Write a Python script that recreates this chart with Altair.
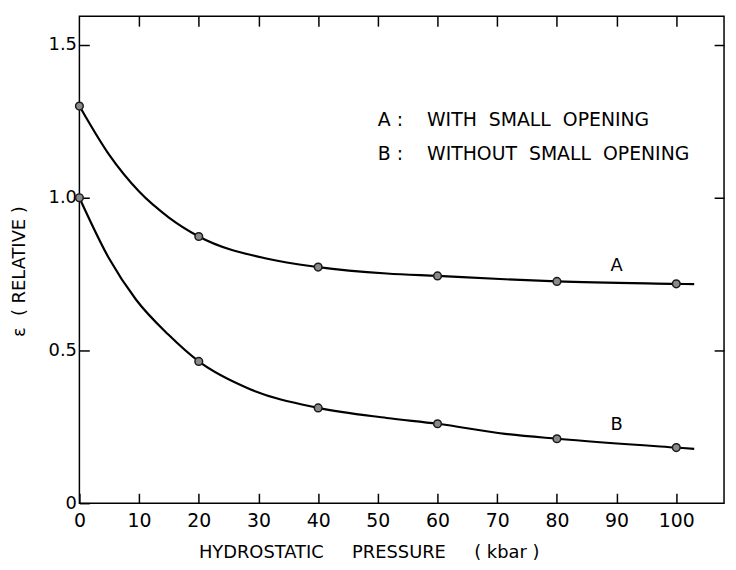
import altair as alt
import pandas as pd

pressure = [0, 20, 40, 60, 80, 100]
eps_a = [1.30, 0.873, 0.773, 0.744, 0.726, 0.718]
eps_b = [1.00, 0.464, 0.312, 0.260, 0.211, 0.182]

# Positions
trace_a_x = [0, 5, 10, 15, 20, 31.5, 40, 51.5, 60, 71.3, 80, 100, 103]
trace_a_y = [1.30, 1.14, 1.02, 0.935, 0.873, 0.80, 0.773, 0.752, 0.744, 0.733, 0.726, 0.718, 0.717]
trace_b_x = [0, 5, 9.5, 14.9, 20, 28.6, 40, 51.5, 60, 71.3, 80, 100, 103]
trace_b_y = [1.00, 0.80, 0.666, 0.552, 0.464, 0.373, 0.312, 0.279, 0.260, 0.227, 0.211, 0.182, 0.178]

x_tick_values = [0, 10, 20, 30, 40, 50, 60, 70, 80, 90, 100]
x_inner_ticks = [10, 20, 30, 40, 50, 60, 70, 80, 90, 100]
y_tick_values = [0, 0.5, 1.0, 1.5]
y_inner_ticks = [0.5, 1.0, 1.5]

curve_names = ["A", "B"]
curve_label_x = [90, 90]
curve_label_y = [0.776, 0.257]

NB = "\u00a0"
legend_lines = ["A" + NB + ":" + NB * 4 + "WITH" + NB * 2 + "SMALL" + NB * 2 + "OPENING",
                "B" + NB + ":" + NB * 4 + "WITHOUT" + NB * 2 + "SMALL" + NB * 2 + "OPENING"]
legend_x = [50, 50]
legend_y = [1.255, 1.143]

x_title = "HYDROSTATIC" + NB * 5 + "PRESSURE" + NB * 5 + "(" + NB + "kbar" + NB + ")"
y_title = "\u03b5" + NB * 2 + "(" + NB + "RELATIVE" + NB + ")"

FONT = "DejaVu Sans"

pts = pd.DataFrame({
    "series": ["A"] * len(pressure) + ["B"] * len(pressure),
    "p": pressure + pressure,
    "e": eps_a + eps_b,
})
lines = pd.DataFrame({
    "series": ["A"] * len(trace_a_x) + ["B"] * len(trace_b_x),
    "p": trace_a_x + trace_b_x,
    "e": trace_a_y + trace_b_y,
})
labels = pd.DataFrame({"name": curve_names, "x": curve_label_x, "y": curve_label_y})
legend = pd.DataFrame({"t": legend_lines, "x": legend_x, "y": legend_y})

xscale = alt.Scale(domain=[0, 108], nice=False, zero=False)
yscale = alt.Scale(domain=[0, 1.594], nice=False, zero=False)

common_axis = dict(grid=False, domain=False, tickSize=10, offset=-10,
                   tickColor="black", tickWidth=1.5, labelFlush=False,
                   labelFont=FONT, labelColor="black",
                   titleFont=FONT, titleFontSize=18, titleFontWeight="normal",
                   titleColor="black")

x_bottom = alt.Axis(orient="bottom", values=x_tick_values, labelPadding=8,
                    labelFontSize=19, format="d", title=x_title,
                    titleX=120, titleY=60, titleAlign="left", titleBaseline="middle",
                    **common_axis)
y_left = alt.Axis(orient="left", values=y_tick_values, labelPadding=3,
                  labelFontSize=18,
                  labelExpr="datum.value == 0 ? '0' : format(datum.value, '.1f')",
                  title=y_title, titleX=-70, titleY=257, titleAngle=270,
                  titleAlign="center", titleBaseline="middle",
                  **common_axis)
x_top = alt.Axis(orient="top", values=x_inner_ticks, labels=False, title=None,
                 **common_axis)
y_right = alt.Axis(orient="right", values=y_inner_ticks, labels=False, title=None,
                   **common_axis)

line_layer = alt.Chart(lines).mark_line(
    interpolate="monotone", color="black", strokeWidth=2.2
).encode(
    x=alt.X("p:Q", scale=xscale, axis=x_bottom),
    y=alt.Y("e:Q", scale=yscale, axis=y_left),
    detail="series:N",
)

point_layer = alt.Chart(pts).mark_circle(
    size=60, color="#8a8a8a", stroke="#1a1a1a", strokeWidth=1.5, opacity=1
).encode(
    x=alt.X("p:Q", scale=xscale, axis=x_top),
    y=alt.Y("e:Q", scale=yscale, axis=y_right),
)

label_layer = alt.Chart(labels).mark_text(
    font=FONT, fontSize=18, color="black", align="center", baseline="middle"
).encode(
    x=alt.X("x:Q", scale=xscale, axis=None),
    y=alt.Y("y:Q", scale=yscale, axis=None),
    text="name:N",
)

legend_layer = alt.Chart(legend).mark_text(
    font=FONT, fontSize=19, color="black", align="left", baseline="middle"
).encode(
    x=alt.X("x:Q", scale=xscale, axis=None),
    y=alt.Y("y:Q", scale=yscale, axis=None),
    text="t:N",
)

chart = alt.layer(line_layer, point_layer, label_layer, legend_layer).resolve_axis(
    x="independent", y="independent"
).properties(
    width=650, height=491,
    autosize=alt.AutoSizeParams(type="none"),
    padding={"left": 72, "top": 6, "right": 4, "bottom": 60},
    background="white",
).configure_view(
    stroke="black", strokeWidth=1.5
)

chart.save("out.html", embed_options={"renderer": "svg", "actions": False})
